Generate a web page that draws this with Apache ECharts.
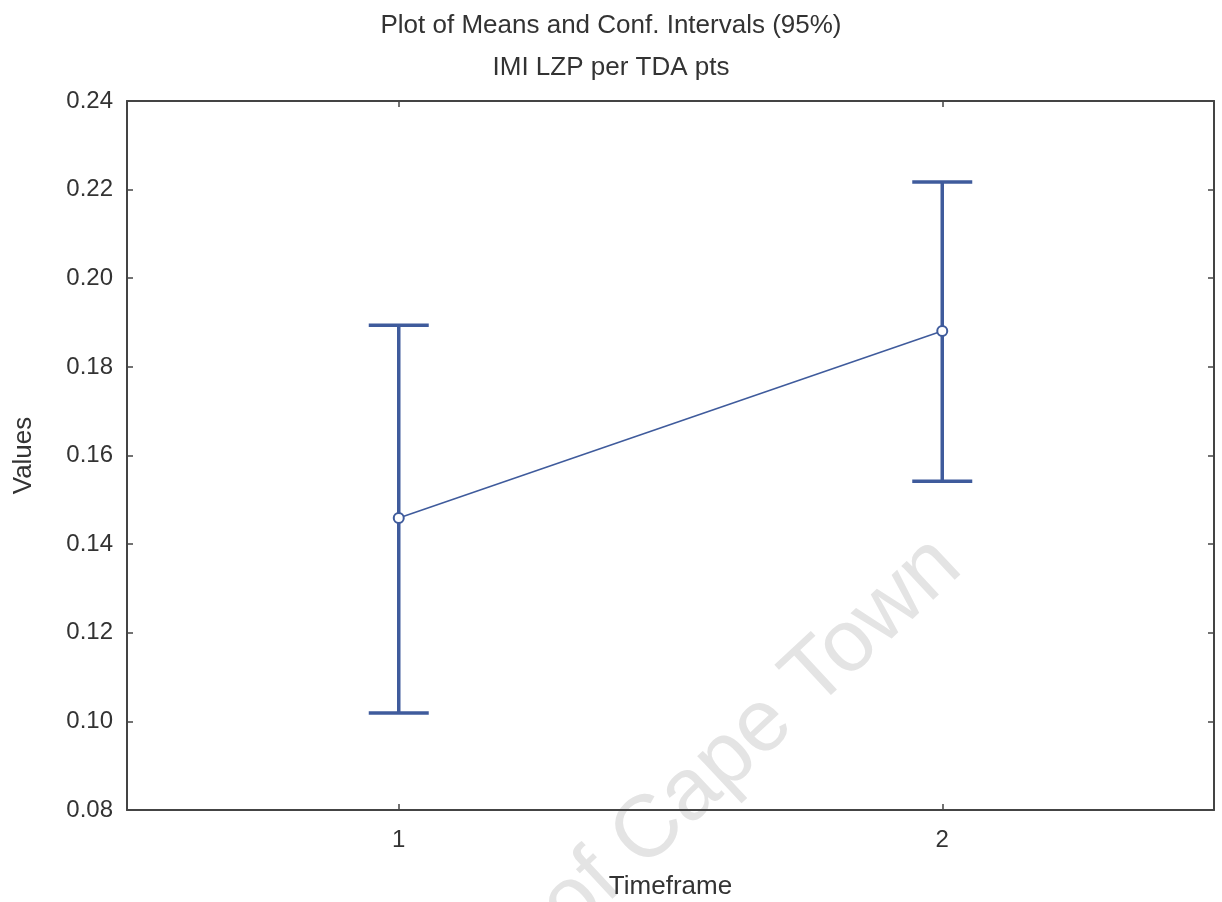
<!DOCTYPE html>
<html>
<head>
<meta charset="utf-8">
<title>Plot of Means and Conf. Intervals</title>
<script src="https://cdn.jsdelivr.net/npm/echarts@6/dist/echarts.min.js"></script>
<style>
  html, body { margin: 0; padding: 0; background: #fff; }
  #chart { width: 1222px; height: 902px; }
</style>
</head>
<body>
<div id="chart"></div>
<script type="text/javascript">
	// data
	var categories = ['1', '2'];
	var means = [0.1459, 0.1881];
	var lower = [0.1019, 0.1542];
	var upper = [0.1894, 0.2217];
	var yTicks = [0.08, 0.10, 0.12, 0.14, 0.16, 0.18, 0.20, 0.22, 0.24];

	var barColor = '#3f5b9c';
	var frameColor = '#444';
	var font = "'Liberation Sans', Arial, sans-serif";

	var errData = [];
	for (var i = 0; i < categories.length; i++) {
		errData.push([i, lower[i], upper[i]]);
	}

	function renderErr(params, api) {
		var x = api.value(0);
		var lo = api.coord([x, api.value(1)]);
		var hi = api.coord([x, api.value(2)]);
		var half = 30;
		var style = { stroke: barColor, lineWidth: 3.5 };
		return {
			type: 'group',
			children: [
				{ type: 'line', shape: { x1: lo[0], y1: lo[1], x2: hi[0], y2: hi[1] }, style: style },
				{ type: 'line', shape: { x1: hi[0] - half, y1: hi[1], x2: hi[0] + half, y2: hi[1] }, style: style },
				{ type: 'line', shape: { x1: lo[0] - half, y1: lo[1], x2: lo[0] + half, y2: lo[1] }, style: style }
			]
		};
	}

	var axisLine = { show: true, lineStyle: { color: frameColor, width: 2 } };
	var tickIn = { show: true, inside: true, length: 6, lineStyle: { color: frameColor, width: 1.5 } };

	var option = {
		backgroundColor: '#fff',
		animation: false,
		title: {
			text: 'Plot of Means and Conf. Intervals (95%)\nIMI LZP per TDA pts',
			left: 'center',
			top: 0,
			textStyle: { fontFamily: font, fontSize: 26, fontWeight: 'normal', color: '#333', lineHeight: 42 }
		},
		graphic: [{
			type: 'text',
			z: -10,
			x: 978,
			y: 585,
			rotation: 0.75,
			silent: true,
			style: {
				text: 'University of Cape Town',
				fontFamily: font,
				fontSize: 88,
				fill: '#e4e4e4',
				textAlign: 'right',
				textVerticalAlign: 'bottom'
			}
		}],
		grid: { left: 127, right: 8, top: 101, bottom: 92, outerBoundsMode: 'none', containLabel: false },
		xAxis: [{
			type: 'category',
			data: categories,
			boundaryGap: true,
			name: 'Timeframe',
			nameLocation: 'middle',
			nameGap: 64,
			nameTextStyle: { fontFamily: font, fontSize: 26, color: '#333' },
			axisLine: axisLine,
			axisTick: { show: true, inside: true, alignWithLabel: true, length: 6, lineStyle: { color: frameColor, width: 1.5 } },
			axisLabel: { fontFamily: font, fontSize: 24, color: '#333', margin: 18 },
			splitLine: { show: false }
		}, {
			type: 'category',
			data: categories,
			position: 'top',
			boundaryGap: true,
			axisLine: axisLine,
			axisTick: { show: true, inside: true, alignWithLabel: true, length: 6, lineStyle: { color: frameColor, width: 1.5 } },
			axisLabel: { show: false },
			splitLine: { show: false }
		}],
		yAxis: [{
			type: 'value',
			min: yTicks[0],
			max: yTicks[yTicks.length - 1],
			interval: 0.02,
			name: 'Values',
			nameLocation: 'middle',
			nameGap: 90,
			nameTextStyle: { fontFamily: font, fontSize: 26, color: '#333' },
			axisLine: axisLine,
			axisTick: tickIn,
			axisLabel: {
				fontFamily: font, fontSize: 24, color: '#333', margin: 14,
				formatter: function (v) { return v.toFixed(2); }
			},
			splitLine: { show: false }
		}, {
			type: 'value',
			position: 'right',
			min: yTicks[0],
			max: yTicks[yTicks.length - 1],
			interval: 0.02,
			axisLine: axisLine,
			axisTick: tickIn,
			axisLabel: { show: false },
			splitLine: { show: false }
		}],
		series: [{
			type: 'custom',
			renderItem: renderErr,
			data: errData,
			encode: { x: 0, y: [1, 2] },
			z: 2
		}, {
			type: 'line',
			data: means,
			symbol: 'circle',
			symbolSize: 10,
			lineStyle: { color: barColor, width: 1.5 },
			itemStyle: { color: '#fff', borderColor: barColor, borderWidth: 2 },
			z: 3
		}]
	};

	var myChart = echarts.init(document.getElementById('chart'));
	myChart.setOption(option);
</script>
</body>
</html>
